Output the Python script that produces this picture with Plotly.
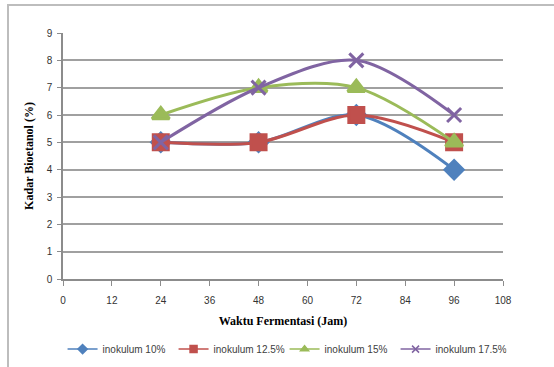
import plotly.graph_objects as go

# Fermentation time (hours) and bioethanol content (%) per inoculum level
waktu = [24, 48, 72, 96]
inokulum_10 = [5, 5, 6, 4]
inokulum_12_5 = [5, 5, 6, 5]
inokulum_15 = [6, 7, 7, 5]
inokulum_17_5 = [5, 7, 8, 6]

series = [
    ("inokulum 10%", inokulum_10, "#4F81BD", "diamond", 14),
    ("inokulum 12.5%", inokulum_12_5, "#C0504D", "square", 15),
    ("inokulum 15%", inokulum_15, "#9BBB59", "triangle-up", 15),
    ("inokulum 17.5%", inokulum_17_5, "#8064A2", "x-thin-open", 14),
]

fig = go.Figure()
for name, vals, color, sym, size in series:
    # the data curve itself
    fig.add_trace(go.Scatter(
        x=waktu, y=vals, name=name, mode="lines+markers", showlegend=False,
        line=dict(color=color, width=3, shape="spline", smoothing=0.9),
        marker=dict(symbol=sym, size=size, color=color,
                    line=dict(color=color, width=3)),
    ))
    # compact legend key for the same series
    fig.add_trace(go.Scatter(
        x=[None], y=[None], name=name, mode="lines+markers",
        line=dict(color=color, width=1.5),
        marker=dict(symbol=sym, size=7, color=color,
                    line=dict(color=color, width=1.5)),
    ))

axis_font = dict(family="Liberation Sans", size=10, color="#333333")

fig.update_layout(
    width=554, height=367,
    margin=dict(l=63, r=51, t=33, b=88, autoexpand=False),
    paper_bgcolor="white", plot_bgcolor="white",
    showlegend=True,
    legend=dict(orientation="h", x=-0.001, xanchor="left", y=-0.285, yanchor="middle",
                entrywidth=66, entrywidthmode="pixels",
                font=dict(family="Liberation Sans", size=10, color="#404040"),
                itemwidth=30, tracegroupgap=0, bgcolor="rgba(0,0,0,0)"),
    xaxis=dict(range=[0, 108], tickvals=list(range(0, 109, 12)),
               showgrid=False, zeroline=False,
               showline=True, linecolor="#8C8C8C", linewidth=1.5,
               ticks="outside", ticklen=5, tickcolor="#8C8C8C",
               ticklabelstandoff=6,
               tickfont=axis_font,
               title=dict(text="Waktu Fermentasi (Jam)", standoff=12,
                          font=dict(family="Liberation Serif", size=12, color="black",
                                    weight="bold"))),
    yaxis=dict(range=[0, 9], dtick=1,
               showgrid=True, gridcolor="#A0A0A0", gridwidth=1.5,
               zeroline=False,
               showline=True, linecolor="#8C8C8C", linewidth=1.5,
               ticks="outside", ticklen=4, tickcolor="#8C8C8C",
               ticklabelstandoff=3,
               tickfont=axis_font,
               title=dict(text="Kadar Bioetanol (%)", standoff=10,
                          font=dict(family="Liberation Serif", size=12, color="black",
                                    weight="bold"))),
    shapes=[dict(type="rect", xref="paper", yref="paper",
                 x0=-0.125, x1=1.5, y0=-0.6, y1=1.114,
                 line=dict(color="#BDBDBD", width=2), layer="below")],
)

fig.write_html("out.html")
